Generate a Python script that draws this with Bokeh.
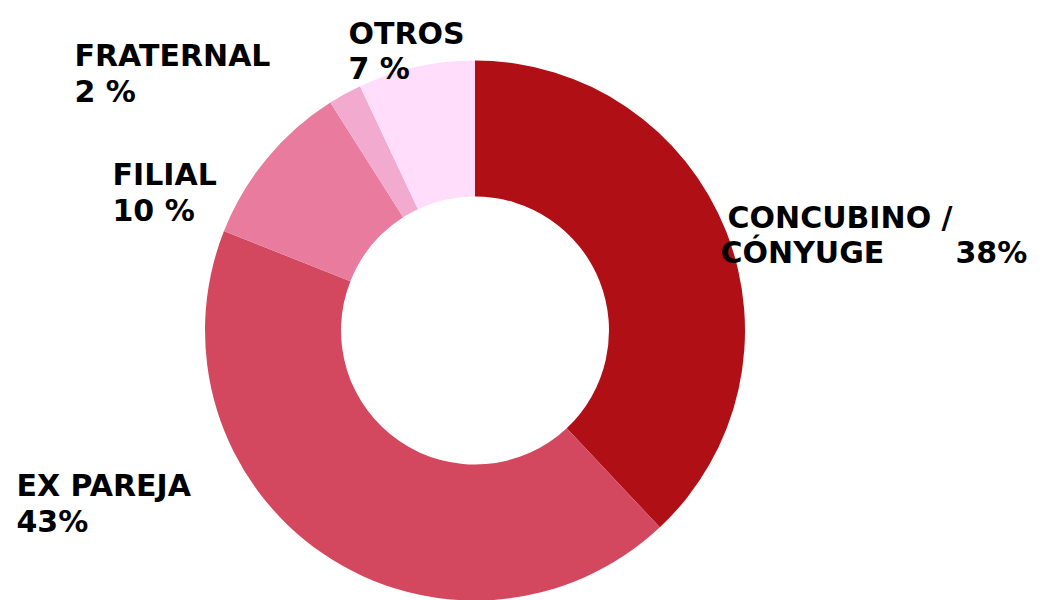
import math
from bokeh.plotting import figure
from bokeh.models import Range1d, ColumnDataSource
from bokeh.core.properties import value
from bokeh.embed import file_html
from bokeh.resources import INLINE

# ---- data ----
categories = ["CONCUBINO / CÓNYUGE", "EX PAREJA", "FILIAL", "FRATERNAL", "OTROS"]
values = [38, 43, 10, 2, 7]
pct_labels = ["38%", "43%", "10 %", "2 %", "7 %"]
name_lines = [["CONCUBINO /", "CÓNYUGE"], ["EX PAREJA"], ["FILIAL"], ["FRATERNAL"], ["OTROS"]]
colors = ["#B00F15", "#D4485F", "#E87B9E", "#F3AACF", "#FFDDFB"]

# ---- layout (screen pixels of the 1043x600 page) ----
W, H = 1043, 600
cx, cy = 474.5, 330
r_out, r_in = 270, 134
# label anchors: (x, baseline_y) for each text line, and for the percentage
name_pos = [[(727, 217), (720, 252)], [(16, 485)], [(112, 174)], [(74, 55)], [(348, 33)]]
pct_pos = [(955, 252), (16, 521), (112, 210), (74, 91), (348, 68)]

def Y(py):
    return H - py

total = float(sum(values))
starts, ends = [], []
cum = 0.0
for v in values:
    starts.append(math.pi / 2 - 2 * math.pi * cum / total)
    cum += v
    ends.append(math.pi / 2 - 2 * math.pi * cum / total)

p = figure(width=W, height=H, output_backend="svg", toolbar_location=None,
           x_range=Range1d(0, W), y_range=Range1d(0, H), min_border=0)
p.axis.visible = False
p.grid.visible = False
p.outline_line_color = None
p.background_fill_color = "white"
p.border_fill_color = "white"

src = ColumnDataSource(dict(start=starts, end=ends, color=colors, cat=categories))
p.annular_wedge(x=cx, y=Y(cy), inner_radius=r_in, outer_radius=r_out,
                start_angle="start", end_angle="end", direction="clock",
                fill_color="color", line_color=None, source=src)

tx, ty, tt = [], [], []
for lines, poss, pct, pp in zip(name_lines, name_pos, pct_labels, pct_pos):
    for ln, (x, y) in zip(lines, poss):
        tx.append(x); ty.append(Y(y)); tt.append(ln)
    tx.append(pp[0]); ty.append(Y(pp[1])); tt.append(pct)

p.text(x=tx, y=ty, text=tt, text_font=value("DejaVu Sans"), text_font_style="bold",
       text_font_size="30px", text_color="#000000", text_baseline="alphabetic",
       text_align="left")

open("out.html", "w").write(file_html(p, INLINE))
